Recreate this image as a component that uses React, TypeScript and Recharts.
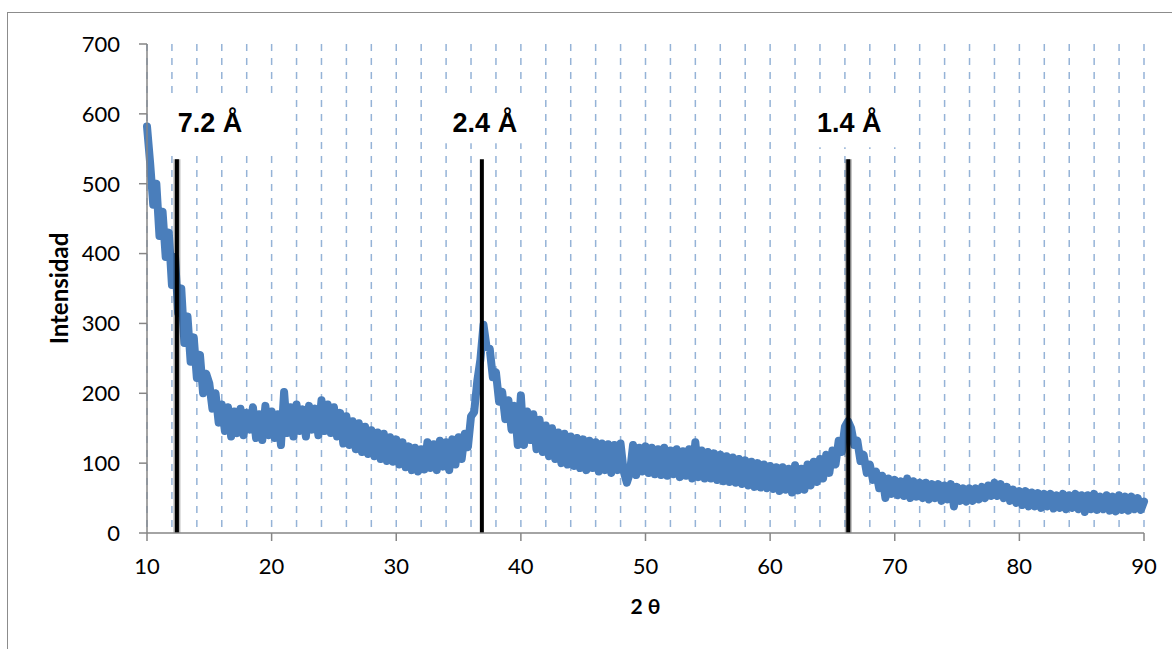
import { LineChart, Line, XAxis, YAxis, CartesianGrid, ReferenceLine } from 'recharts';

// 2θ sampling: 0.25° steps, one block per 5°
const blockStart = [10, 15, 20, 25, 30, 35, 40, 45, 50, 55, 60, 65, 70, 75, 80, 85];
const thetaStep = 0.25;

const counts10 = [582, 530, 470, 500, 425, 460, 395, 430, 355, 395, 315, 350, 272, 310, 245, 280, 222, 255, 200, 228];
const counts15 = [214, 178, 200, 158, 184, 146, 180, 138, 174, 143, 178, 140, 172, 148, 180, 136, 170, 133, 182, 140];
const counts20 = [174, 136, 170, 126, 202, 143, 180, 138, 184, 146, 177, 138, 182, 148, 178, 140, 190, 146, 184, 143];
const counts25 = [180, 138, 172, 128, 167, 126, 160, 120, 157, 116, 152, 113, 147, 110, 144, 106, 142, 103, 137, 102];
const counts30 = [134, 98, 130, 94, 124, 90, 122, 88, 120, 91, 130, 93, 127, 90, 132, 95, 130, 90, 134, 98];
const counts35 = [137, 106, 142, 123, 167, 173, 217, 248, 298, 266, 264, 223, 230, 188, 202, 163, 190, 148, 182, 126];
const counts40 = [197, 126, 174, 133, 170, 120, 162, 116, 154, 110, 150, 106, 144, 100, 142, 98, 138, 96, 136, 93];
const counts45 = [134, 90, 132, 93, 130, 88, 128, 90, 127, 86, 126, 90, 128, 88, 72, 86, 126, 83, 122, 88];
const counts50 = [124, 86, 122, 84, 120, 83, 122, 82, 118, 84, 120, 80, 117, 82, 120, 78, 130, 80, 118, 78];
const counts55 = [116, 78, 114, 76, 112, 74, 110, 73, 108, 72, 106, 70, 104, 68, 102, 66, 100, 65, 98, 64];
const counts60 = [96, 63, 94, 60, 94, 62, 92, 58, 97, 61, 92, 62, 98, 68, 102, 73, 106, 78, 112, 86];
const counts65 = [118, 98, 132, 116, 152, 160, 150, 126, 132, 103, 112, 86, 98, 76, 88, 64, 82, 50, 78, 56];
const counts70 = [76, 54, 74, 53, 78, 50, 74, 52, 72, 50, 72, 48, 70, 50, 70, 46, 68, 48, 70, 38];
const counts75 = [66, 46, 64, 45, 64, 46, 64, 48, 66, 50, 68, 53, 72, 53, 70, 50, 66, 46, 62, 43];
const counts80 = [60, 40, 60, 38, 58, 38, 57, 36, 56, 38, 56, 35, 54, 36, 56, 34, 54, 36, 56, 34];
const counts85 = [54, 30, 54, 34, 56, 33, 52, 34, 54, 32, 52, 31, 54, 33, 52, 32, 52, 34, 50, 33];
const counts90 = [45];

const blocks = [counts10, counts15, counts20, counts25, counts30, counts35, counts40, counts45,
  counts50, counts55, counts60, counts65, counts70, counts75, counts80, counts85];

const xTicks = [10, 20, 30, 40, 50, 60, 70, 80, 90];
const yTicks = [0, 100, 200, 300, 400, 500, 600, 700];
const gridTicks = [12, 14, 16, 18, 20, 22, 24, 26, 28, 30, 32, 34, 36, 38, 40, 42, 44, 46, 48, 50,
  52, 54, 56, 58, 60, 62, 64, 66, 68, 70, 72, 74, 76, 78, 80, 82, 84, 86, 88, 90];

const peakTheta = [12.4, 36.87, 66.27];
const peakLabels = ['7.2 Å', '2.4 Å', '1.4 Å'];
const peakTop = 535;

// label box styling, relative to top of each peak line
const labelDx = [33, 3, 1];
const boxLeft = [-17, -49, -42];
const boxRight = [108, 48, 58];
const boxBottom = [-5, -16, -12];
const lineHalo = [true, false, true];

const data: { t: number; y: number }[] = [];
blocks.forEach((b, i) => b.forEach((v, j) => data.push({ t: blockStart[i] + j * thetaStep, y: v })));
counts90.forEach(v => data.push({ t: 90, y: v }));

const tickFont = { fontFamily: 'Lato, "Open Sans", sans-serif', fontSize: 22, fill: '#000' };
const axisGray = '#868686';

function peakLabel(p: any, i: number) {
  const vb = p.viewBox || {};
  const x = vb.x ?? 0;
  const y = vb.y ?? 0;
  return (
    <g>
      <rect x={x + boxLeft[i]} y={y - 63} width={boxRight[i] - boxLeft[i]} height={63 + boxBottom[i]} fill="#fff" />
      <text x={x + labelDx[i]} y={y - 27} textAnchor="middle"
        style={{ fontFamily: '"Liberation Sans", Arial, sans-serif', fontSize: 27, fontWeight: 700, fill: '#000' }}>
        {peakLabels[i]}
      </text>
    </g>
  );
}

export default function App() {
  return (
    <div style={{ position: 'absolute', left: 0, top: 0, width: 1172, height: 649, overflow: 'hidden', background: '#fff' }}>
      <div style={{ position: 'absolute', left: 7, top: 12, width: 1300, height: 800, borderTop: '1px solid #8c8c8c', borderLeft: '1px solid #8c8c8c' }} />
      <div style={{ position: 'absolute', left: 0, top: 0 }}>
        <LineChart width={1172} height={649} data={data} margin={{ top: 44, right: 28, bottom: 86, left: 0 }}>
          <XAxis xAxisId="grid" dataKey="t" type="number" domain={[10, 90]} ticks={gridTicks} hide />
          <CartesianGrid xAxisId="grid" horizontal={false} vertical stroke="#95b3d7" strokeWidth={1.5} strokeDasharray="7 7" />
          <XAxis dataKey="t" type="number" domain={[10, 90]} ticks={xTicks} interval={0}
            height={30} tickSize={8} tickMargin={17} tick={tickFont}
            axisLine={{ stroke: axisGray, strokeWidth: 1.5 }} tickLine={{ stroke: axisGray, strokeWidth: 1.5 }}
            label={(p: any) => {
              const vb = p.viewBox || {};
              return (
                <text x={vb.x + vb.width / 2} y={vb.y + 81} textAnchor="middle"
                  style={{ fontFamily: 'Lato, "DejaVu Sans", sans-serif', fontSize: 21, fontWeight: 700, fill: '#000' }}>
                  2 θ
                </text>
              );
            }} />
          <YAxis type="number" domain={[0, 700]} ticks={yTicks} interval={0} width={147}
            tickSize={8} tickMargin={19} tick={tickFont}
            axisLine={{ stroke: axisGray, strokeWidth: 1.5 }} tickLine={{ stroke: axisGray, strokeWidth: 1.5 }}
            label={(p: any) => {
              const vb = p.viewBox || {};
              const cx = vb.x + 58;
              const cy = vb.y + vb.height / 2;
              return (
                <text x={cx} y={cy} textAnchor="middle" dominantBaseline="central" transform={`rotate(-90 ${cx} ${cy})`}
                  style={{ fontFamily: 'Lato, sans-serif', fontSize: 24, fontWeight: 700, fill: '#000' }}>
                  Intensidad
                </text>
              );
            }} />
          <Line type="linear" dataKey="y" stroke="#4a7ebb" strokeWidth={8} dot={false}
            strokeLinejoin="round" strokeLinecap="round" isAnimationActive={false} />
          {peakTheta.map((t, i) => lineHalo[i] ? (
            <ReferenceLine key={`h${i}`} segment={[{ x: t, y: 0 }, { x: t, y: peakTop }]}
              stroke="rgba(0,0,0,0.3)" strokeWidth={7} />
          ) : null)}
          {peakTheta.map((t, i) => (
            <ReferenceLine key={i} segment={[{ x: t, y: 0 }, { x: t, y: peakTop }]}
              stroke="#000" strokeWidth={4} label={(p: any) => peakLabel(p, i)} />
          ))}
        </LineChart>
      </div>
    </div>
  );
}
